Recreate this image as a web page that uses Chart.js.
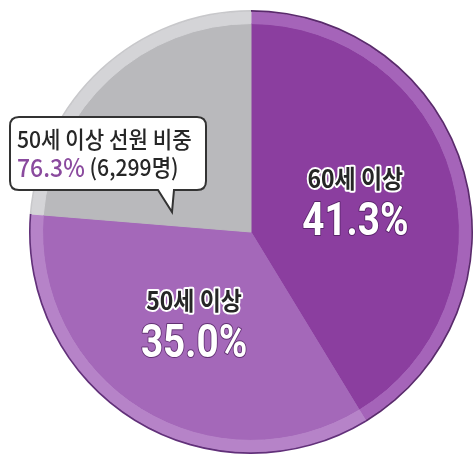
<!DOCTYPE html>
<html>
<head>
<meta charset="utf-8">
<script src="https://cdn.jsdelivr.net/npm/chart.js@4"></script>
<style>
  html, body { margin: 0; padding: 0; background: #fff; }
  #wrap { width: 476px; height: 454px; position: relative; }
</style>
</head>
<body>
<div id="wrap"><canvas id="pie"></canvas></div>
<script>
/* 선원 연령 비중 — pie */
const labels = ['60세 이상', '50세 이상', '50세 미만'];
const values = [41.3, 35.0, 23.7];
const showLabel = [true, true, false];
const calloutTitle = '50세 이상 선원 비중';
const calloutPct = '76.3%';
const calloutCount = ' (6,299명)';

const COLORS = {
  fill: ['#8b3e9f', '#a468b9', '#b9b9bc'],
  rim: ['#a564b9', '#b683c8', '#d4d4d7'],
  edge: ['#5a2a6c', '#62307a', '#c8c8cb'],
  text: '#262626', pct: '#8a4a9e',
};

function drawCondensed(ctx, text, x, y, sx) {
  ctx.save();
  ctx.translate(x, y);
  ctx.scale(sx, 1);
  ctx.strokeText(text, 0, 0);
  ctx.fillText(text, 0, 0);
  ctx.restore();
}

// draws slice labels + callout box
const labelPlugin = {
  id: 'labels',
  afterDraw(chart) {
    const ctx = chart.ctx;
    const arcs = chart.getDatasetMeta(2).data;
    arcs.forEach((arc, i) => {
      if (!showLabel[i]) return;
      const { x, y, startAngle, endAngle, outerRadius } = arc.getProps(['x', 'y', 'startAngle', 'endAngle', 'outerRadius'], true);
      const mid = (startAngle + endAngle) / 2;
      const r = outerRadius * 0.52;
      const cx = x + Math.cos(mid) * r;
      const cy = y + Math.sin(mid) * r;
      ctx.save();
      ctx.textAlign = 'center';
      ctx.textBaseline = 'middle';
      ctx.lineJoin = 'round';
      ctx.font = 'bold 25px "Noto Sans CJK KR", sans-serif';
      ctx.strokeStyle = '#fff';
      ctx.lineWidth = 4;
      ctx.fillStyle = COLORS.text;
      drawCondensed(ctx, labels[i], cx, cy - 24, 0.92);
      ctx.font = 'bold 46px Roboto, sans-serif';
      ctx.strokeStyle = 'rgba(70,25,85,0.7)';
      ctx.lineWidth = 2;
      ctx.fillStyle = '#fff';
      drawCondensed(ctx, values[i].toFixed(1) + '%', cx, cy + 21, 0.84);
      ctx.restore();
    });

    // callout
    const bx = 10, by = 117, bw = 196, bh = 73, rr = 9;
    ctx.save();
    ctx.beginPath();
    ctx.moveTo(bx + rr, by);
    ctx.lineTo(bx + bw - rr, by);
    ctx.quadraticCurveTo(bx + bw, by, bx + bw, by + rr);
    ctx.lineTo(bx + bw, by + bh - rr);
    ctx.quadraticCurveTo(bx + bw, by + bh, bx + bw - rr, by + bh);
    ctx.lineTo(174, by + bh);
    ctx.lineTo(172, 212);
    ctx.lineTo(158, by + bh);
    ctx.lineTo(bx + rr, by + bh);
    ctx.quadraticCurveTo(bx, by + bh, bx, by + bh - rr);
    ctx.lineTo(bx, by + rr);
    ctx.quadraticCurveTo(bx, by, bx + rr, by);
    ctx.closePath();
    ctx.fillStyle = '#fff';
    ctx.fill();
    ctx.strokeStyle = '#333';
    ctx.lineWidth = 2;
    ctx.stroke();

    ctx.textBaseline = 'middle';
    ctx.textAlign = 'left';
    ctx.lineWidth = 0;
    ctx.strokeStyle = 'rgba(0,0,0,0)';
    ctx.font = '500 23px "Noto Sans CJK KR", sans-serif';
    ctx.fillStyle = COLORS.text;
    ctx.save();
    ctx.translate(17, 139); ctx.scale(0.92, 1);
    ctx.fillText(calloutTitle, 0, 0);
    ctx.restore();
    ctx.save();
    ctx.translate(17, 167); ctx.scale(0.92, 1);
    ctx.font = '500 25px "Noto Sans CJK KR", sans-serif';
    ctx.fillStyle = COLORS.pct;
    ctx.fillText(calloutPct, 0, 0);
    const w = ctx.measureText(calloutPct).width;
    ctx.fillStyle = COLORS.text;
    ctx.font = '500 23px "Noto Sans CJK KR", sans-serif';
    ctx.fillText(calloutCount, w, 0);
    ctx.restore();
    ctx.restore();
  }
};

new Chart(document.getElementById('pie'), {
  type: 'doughnut',
  data: {
    labels,
    datasets: [
      { data: values, backgroundColor: COLORS.edge, borderColor: COLORS.edge, borderWidth: 0, weight: 0.14 },
      { data: values, backgroundColor: COLORS.rim, borderColor: COLORS.rim, borderWidth: 1, weight: 1 },
      { data: values, backgroundColor: COLORS.fill, borderColor: COLORS.fill, borderWidth: 1, weight: 17.5 },
    ]
  },
  options: {
    responsive: true, maintainAspectRatio: false, animation: false,
    cutout: 0,
    layout: { padding: { left: 29, right: 3, top: 10, bottom: 0 } },
    plugins: { legend: { display: false }, tooltip: { enabled: false } },
  },
  plugins: [labelPlugin],
});
</script>
</body>
</html>
